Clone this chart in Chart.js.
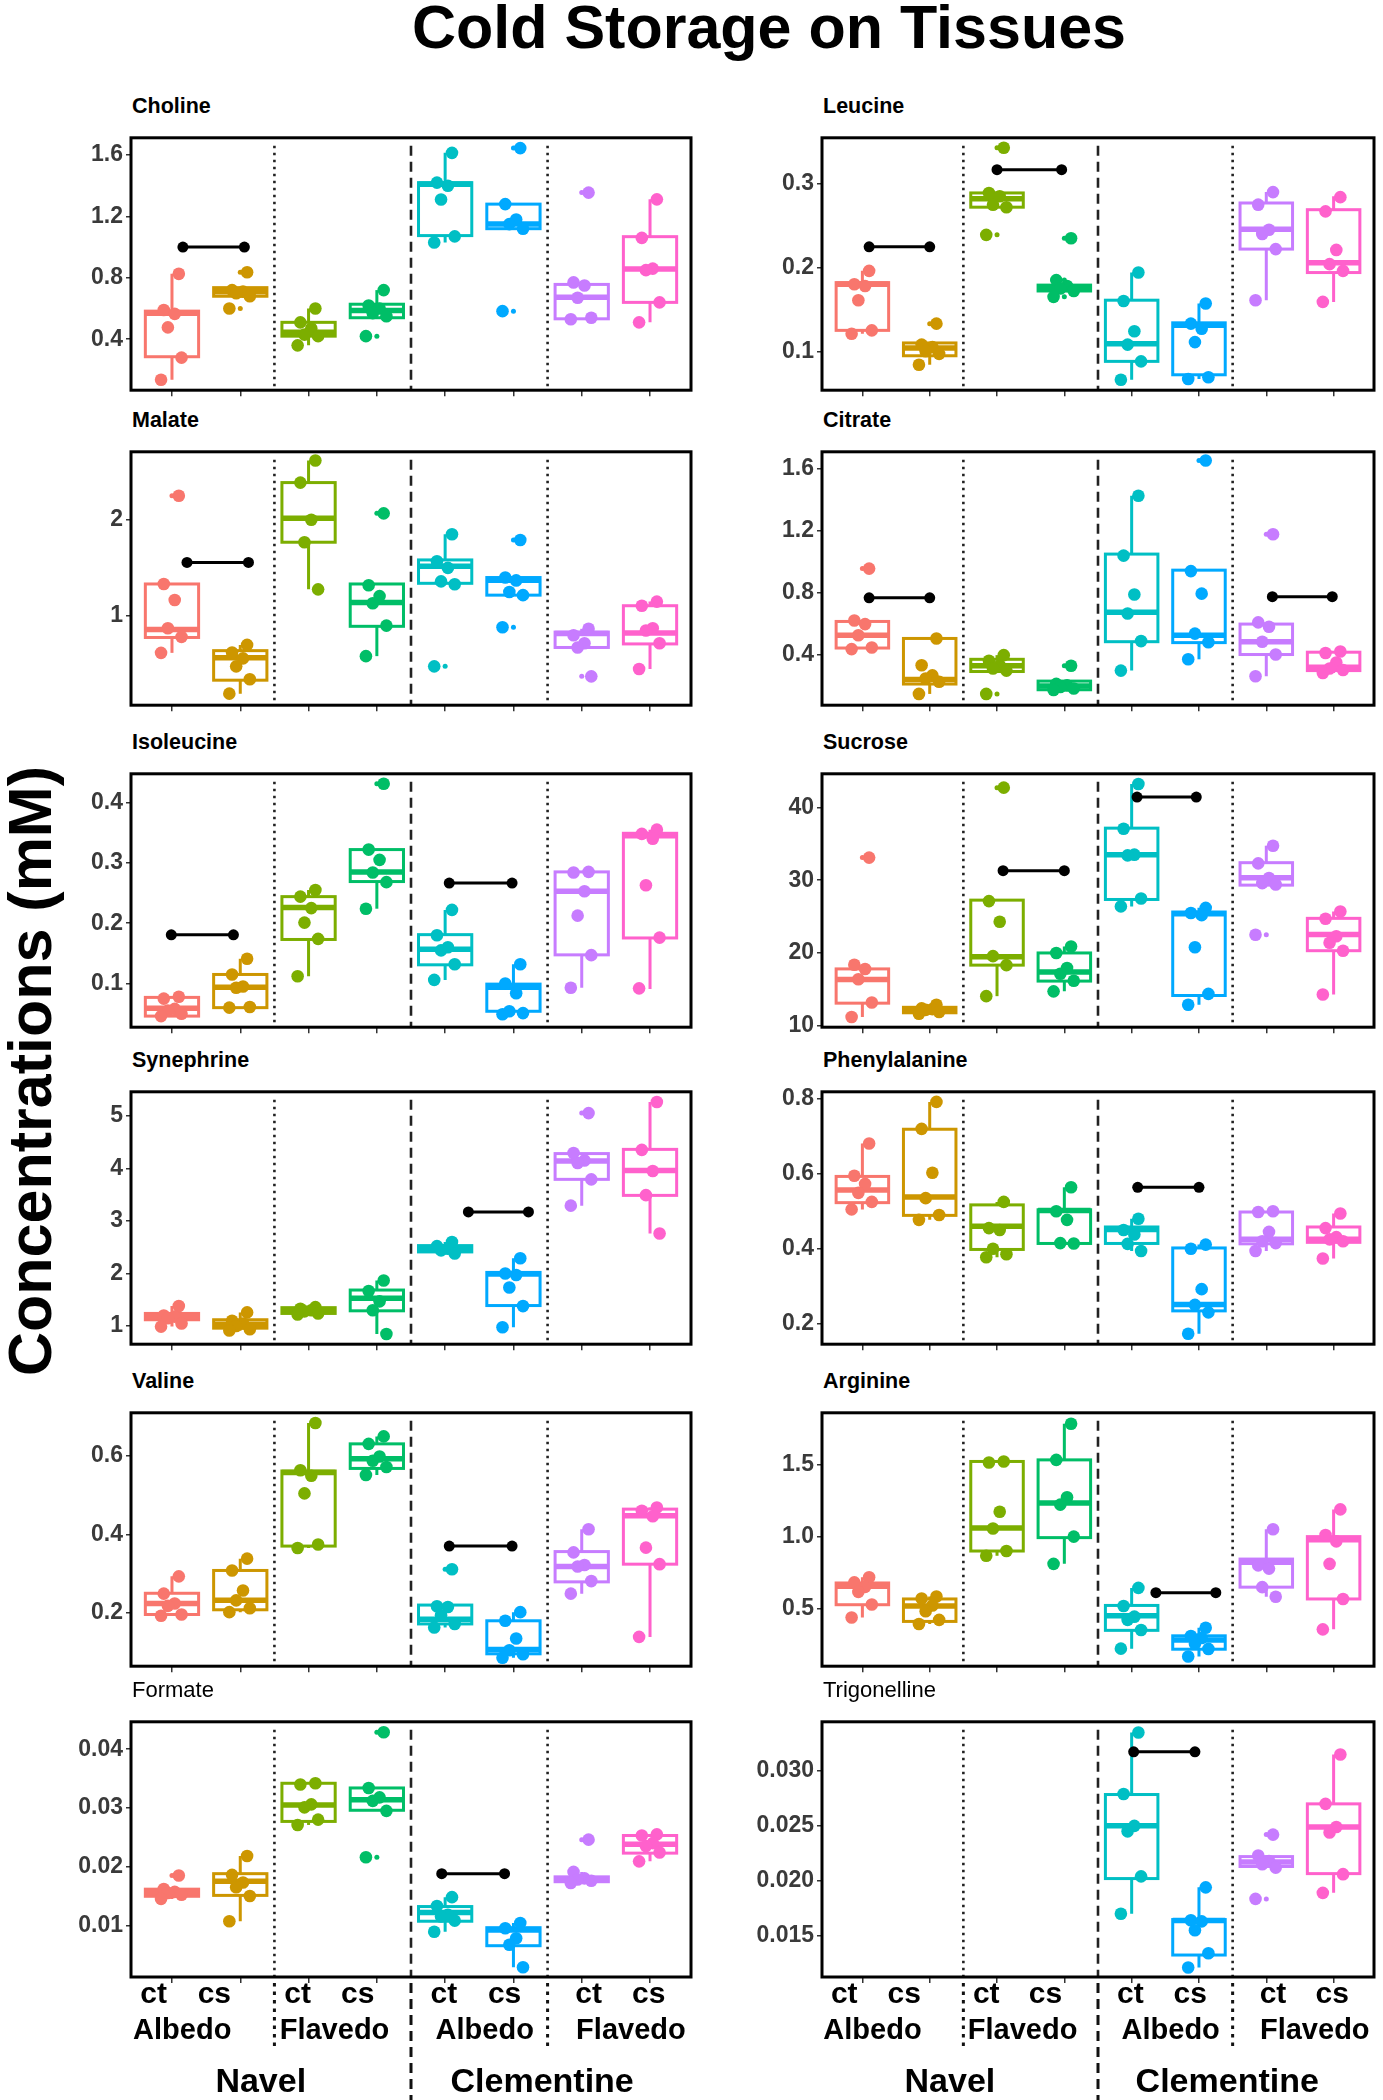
<!DOCTYPE html>
<html>
<head>
<meta charset="utf-8">
<script src="https://cdn.jsdelivr.net/npm/chart.js@4.4.1/dist/chart.umd.min.js"></script>
<style>
  body { margin: 0; background: #fff; }
  #page { position: relative; width: 1383px; height: 2100px; overflow: hidden; font-family: "Liberation Sans", Arial, sans-serif; }
  #page canvas { position: absolute; }
  .ptitle { position: absolute; font-size: 21.5px; font-weight: bold; line-height: 22px; color: #000; white-space: nowrap; }
  .ptitle.light { font-weight: normal; font-size: 22px; }
  #title { position: absolute; left: 269px; width: 1000px; top: -3px; text-align: center; font-size: 61px; font-weight: bold; line-height: 61px; }
  #ylab { position: absolute; left: 30px; top: 1071px; transform: translate(-50%, -50%) rotate(-90deg); font-size: 61px; font-weight: bold; line-height: 61px; white-space: nowrap; }
</style>
</head>
<body>
<div id="page">
  <div id="title">Cold Storage on Tissues</div>
  <div id="ylab">Concentrations (mM)</div>
</div>
<script>
// groups: Navel Albedo ct/cs, Navel Flavedo ct/cs, Clementine Albedo ct/cs, Clementine Flavedo ct/cs
const groupColors = ["#F8766D", "#CD9600", "#7CAE00", "#00BE67", "#00BFC4", "#00A9FF", "#C77CFF", "#FF61CC"];
const categories = ["ct", "cs", "ct", "cs", "ct", "cs", "ct", "cs"];
const tissues = ["Albedo", "Flavedo", "Albedo", "Flavedo"];
const cultivars = ["Navel", "Clementine"];
const jitter = [0.1, -0.12, 0.04, -0.06, 0.14, -0.16];

// box = [lower whisker, q1, median, q3, upper whisker]; sig = [x from, x to, y]
const cholineBox = [[0.136, 0.286, 0.57, 0.583, 0.826], [0.68, 0.68, 0.71, 0.736, 0.736], [0.36, 0.42, 0.446, 0.51, 0.60], [0.54, 0.54, 0.587, 0.628, 0.72],
  [1.03, 1.075, 1.41, 1.42, 1.614], [1.12, 1.12, 1.15, 1.28, 1.28], [0.53, 0.533, 0.674, 0.757, 0.77], [0.51, 0.64, 0.857, 1.068, 1.311]];
const cholinePts = [[0.826, 0.59, 0.565, 0.477, 0.28, 0.136], [0.836, 0.72, 0.71, 0.70, 0.68, 0.60], [0.60, 0.51, 0.47, 0.43, 0.42, 0.36], [0.72, 0.62, 0.60, 0.57, 0.55, 0.42],
  [1.614, 1.42, 1.40, 1.31, 1.07, 1.03], [1.645, 1.28, 1.18, 1.15, 1.12, 0.583], [1.355, 0.77, 0.75, 0.67, 0.54, 0.53], [1.311, 1.06, 0.86, 0.85, 0.64, 0.51]];
const cholineSig = [[1.16, 2.06, 1.0]];
const cholineTicks = [0.4, 0.8, 1.2, 1.6];
const cholineRange = [0.068, 1.712];

const leucineBox = [[0.121, 0.125, 0.18, 0.182, 0.196], [0.084, 0.0947, 0.104, 0.110, 0.110], [0.272, 0.272, 0.282, 0.289, 0.289], [0.172, 0.172, 0.176, 0.179, 0.179],
  [0.066, 0.088, 0.109, 0.161, 0.194], [0.067, 0.072, 0.131, 0.134, 0.157], [0.161, 0.222, 0.2456, 0.277, 0.29], [0.159, 0.194, 0.2057, 0.269, 0.285]];
const leucinePts = [[0.196, 0.18, 0.178, 0.161, 0.125, 0.121], [0.133, 0.108, 0.105, 0.10, 0.097, 0.084], [0.343, 0.289, 0.285, 0.275, 0.272, 0.239], [0.235, 0.185, 0.178, 0.175, 0.172, 0.165],
  [0.194, 0.16, 0.124, 0.108, 0.088, 0.066], [0.157, 0.133, 0.127, 0.111, 0.069, 0.067], [0.29, 0.275, 0.245, 0.24, 0.222, 0.161], [0.284, 0.267, 0.221, 0.204, 0.196, 0.159]];
const leucineSig = [[1.1, 2.0, 0.2247], [3.0, 3.96, 0.3167]];
const leucineTicks = [0.1, 0.2, 0.3];
const leucineRange = [0.0536, 0.3548];

const malateBox = [[0.617, 0.777, 0.86, 1.333, 1.333], [0.193, 0.333, 0.567, 0.64, 0.70], [1.277, 1.767, 2.017, 2.387, 2.617], [0.583, 0.893, 1.14, 1.333, 1.333],
  [1.33, 1.34, 1.517, 1.583, 1.85], [1.217, 1.217, 1.373, 1.40, 1.40], [0.673, 0.673, 0.817, 0.833, 0.867], [0.45, 0.71, 0.823, 1.107, 1.15]];
const malatePts = [[2.25, 1.333, 1.167, 0.873, 0.783, 0.617], [0.70, 0.62, 0.56, 0.477, 0.343, 0.193], [2.617, 2.387, 2.0, 1.767, 1.277], [2.067, 1.32, 1.207, 1.133, 0.9, 0.583],
  [1.85, 1.57, 1.50, 1.36, 1.33, 0.477], [1.79, 1.40, 1.37, 1.25, 1.217, 0.883], [0.867, 0.80, 0.717, 0.673, 0.373], [1.15, 1.107, 0.873, 0.85, 0.717, 0.45]];
const malateSig = [[1.22, 2.12, 1.557]];
const malateTicks = [1, 2];
const malateRange = [0.073, 2.707];

const citrateBox = [[0.435, 0.442, 0.525, 0.614, 0.62], [0.145, 0.209, 0.238, 0.504, 0.504], [0.29, 0.29, 0.327, 0.369, 0.396], [0.17, 0.172, 0.197, 0.228, 0.228],
  [0.296, 0.483, 0.674, 1.05, 1.428], [0.369, 0.477, 0.525, 0.946, 0.946], [0.259, 0.40, 0.483, 0.597, 0.608], [0.28, 0.296, 0.317, 0.415, 0.42]];
const citratePts = [[0.956, 0.62, 0.597, 0.525, 0.445, 0.435], [0.504, 0.331, 0.265, 0.245, 0.224, 0.145], [0.396, 0.36, 0.33, 0.31, 0.296, 0.145], [0.327, 0.21, 0.20, 0.19, 0.18, 0.17],
  [1.428, 1.04, 0.788, 0.665, 0.487, 0.296], [1.656, 0.94, 0.794, 0.535, 0.479, 0.369], [1.178, 0.608, 0.58, 0.483, 0.40, 0.259], [0.42, 0.41, 0.348, 0.31, 0.30, 0.28]];
const citrateSig = [[1.1, 2.0, 0.767], [7.09, 7.98, 0.774]];
const citrateTicks = [0.4, 0.8, 1.2, 1.6];
const citrateRange = [0.072, 1.712];

const isoleucineBox = [[0.046, 0.046, 0.059, 0.077, 0.078], [0.06, 0.06, 0.0937, 0.115, 0.141], [0.112, 0.173, 0.226, 0.244, 0.255], [0.224, 0.269, 0.285, 0.322, 0.322],
  [0.106, 0.131, 0.157, 0.181, 0.222], [0.049, 0.054, 0.094, 0.099, 0.132], [0.093, 0.1475, 0.253, 0.285, 0.285], [0.091, 0.1755, 0.345, 0.349, 0.355]];
const isoleucinePts = [[0.078, 0.075, 0.058, 0.055, 0.05, 0.046], [0.141, 0.115, 0.095, 0.093, 0.061, 0.06], [0.255, 0.244, 0.225, 0.201, 0.174, 0.112], [0.431, 0.322, 0.305, 0.284, 0.268, 0.224],
  [0.222, 0.18, 0.16, 0.155, 0.132, 0.106], [0.132, 0.10, 0.084, 0.054, 0.051, 0.049], [0.285, 0.284, 0.253, 0.2125, 0.147, 0.093], [0.355, 0.348, 0.34, 0.263, 0.176, 0.092]];
const isoleucineSig = [[0.99, 1.9, 0.1808], [5.06, 5.98, 0.2664]];
const isoleucineTicks = [0.1, 0.2, 0.3, 0.4];
const isoleucineRange = [0.0276, 0.4476];

const sucroseBox = [[11.23, 13.12, 16.37, 17.82, 18.39], [11.67, 11.8, 12.24, 12.55, 12.9], [14.08, 18.34, 19.5, 27.26, 27.26], [14.74, 16.15, 17.38, 20.01, 20.9],
  [26.4, 27.35, 33.5, 37.14, 43.2], [12.9, 14.17, 25.4, 25.63, 26.2], [29.32, 29.32, 30.33, 32.4, 34.73], [14.3, 20.32, 22.56, 24.76, 25.7]];
const sucrosePts = [[33.1, 18.39, 17.8, 16.4, 13.2, 11.23], [12.9, 12.4, 12.3, 12.2, 11.9, 11.67], [42.7, 27.13, 24.3, 19.57, 18.34, 14.08], [20.9, 20.0, 17.95, 17.16, 16.2, 14.74],
  [43.2, 37.05, 33.5, 33.4, 27.48, 26.4], [26.2, 25.5, 25.2, 20.8, 14.39, 12.9], [34.73, 32.3, 30.3, 29.6, 29.4, 22.5], [25.7, 24.7, 22.3, 21.42, 20.32, 14.3]];
const sucroseSig = [[3.09, 4.0, 31.3], [5.08, 5.96, 41.4]];
const sucroseTicks = [10, 20, 30, 40];
const sucroseRange = [9.82, 44.6];

const synephrineBox = [[0.99, 1.12, 1.18, 1.24, 1.38], [0.915, 0.96, 1.036, 1.12, 1.26], [1.22, 1.24, 1.29, 1.35, 1.36], [0.85, 1.29, 1.53, 1.685, 1.867],
  [2.38, 2.41, 2.47, 2.53, 2.6], [0.976, 1.39, 1.99, 2.02, 2.29], [3.29, 3.79, 4.14, 4.28, 4.29], [2.76, 3.485, 3.96, 4.36, 5.26]];
const synephrinePts = [[1.38, 1.2, 1.18, 1.15, 1.05, 0.99], [1.26, 1.1, 1.05, 1.0, 0.94, 0.915], [1.36, 1.33, 1.3, 1.28, 1.24, 1.22], [1.867, 1.667, 1.47, 1.3, 0.85],
  [2.6, 2.52, 2.47, 2.44, 2.38], [2.29, 2.0, 1.97, 1.733, 1.38, 0.976], [5.05, 4.29, 4.15, 4.1, 3.79, 3.29], [5.26, 4.35, 3.95, 3.49, 2.76]];
const synephrineSig = [[5.34, 6.22, 3.17]];
const synephrineTicks = [1, 2, 3, 4, 5];
const synephrineRange = [0.655, 5.455];

const phenylalanineBox = [[0.505, 0.523, 0.557, 0.593, 0.681], [0.477, 0.489, 0.538, 0.719, 0.792], [0.377, 0.398, 0.46, 0.517, 0.525], [0.414, 0.414, 0.502, 0.504, 0.564],
  [0.394, 0.414, 0.451, 0.458, 0.48], [0.173, 0.234, 0.251, 0.402, 0.411], [0.394, 0.413, 0.425, 0.498, 0.5], [0.374, 0.417, 0.425, 0.458, 0.494]];
const phenylalaninePts = [[0.681, 0.595, 0.573, 0.549, 0.525, 0.505], [0.792, 0.72, 0.603, 0.535, 0.49, 0.477], [0.525, 0.455, 0.45, 0.40, 0.385, 0.377], [0.564, 0.50, 0.477, 0.415, 0.414],
  [0.48, 0.45, 0.438, 0.413, 0.394], [0.411, 0.40, 0.292, 0.25, 0.23, 0.173], [0.5, 0.498, 0.445, 0.42, 0.415, 0.394], [0.494, 0.455, 0.431, 0.425, 0.42, 0.374]];
const phenylalanineSig = [[5.09, 6.0, 0.564]];
const phenylalanineTicks = [0.2, 0.4, 0.6, 0.8];
const phenylalanineRange = [0.145, 0.819];

const valineBox = [[0.193, 0.196, 0.224, 0.25, 0.293], [0.202, 0.208, 0.232, 0.308, 0.338], [0.365, 0.37, 0.557, 0.561, 0.683], [0.551, 0.5675, 0.592, 0.63, 0.649],
  [0.163, 0.172, 0.184, 0.22, 0.22], [0.086, 0.096, 0.107, 0.18, 0.202], [0.249, 0.279, 0.318, 0.356, 0.413], [0.139, 0.324, 0.447, 0.464, 0.468]];
const valinePts = [[0.293, 0.249, 0.224, 0.218, 0.196, 0.193], [0.338, 0.308, 0.257, 0.232, 0.212, 0.202], [0.683, 0.563, 0.549, 0.504, 0.374, 0.365], [0.649, 0.63, 0.598, 0.587, 0.571, 0.551],
  [0.311, 0.217, 0.215, 0.194, 0.172, 0.163], [0.202, 0.18, 0.135, 0.105, 0.095, 0.086], [0.413, 0.354, 0.322, 0.318, 0.281, 0.249], [0.468, 0.46, 0.446, 0.366, 0.324, 0.139]];
const valineSig = [[5.06, 5.98, 0.37]];
const valineTicks = [0.2, 0.4, 0.6];
const valineRange = [0.0645, 0.709];

const arginineBox = [[0.438, 0.527, 0.656, 0.678, 0.718], [0.393, 0.411, 0.518, 0.567, 0.584], [0.867, 0.9, 1.06, 1.522, 1.522], [0.811, 0.993, 1.233, 1.533, 1.784],
  [0.222, 0.349, 0.451, 0.522, 0.644], [0.167, 0.218, 0.282, 0.311, 0.367], [0.582, 0.649, 0.822, 0.844, 1.051], [0.356, 0.567, 0.978, 1.0, 1.189]];
const argininePts = [[0.718, 0.682, 0.651, 0.616, 0.529, 0.438], [0.584, 0.57, 0.522, 0.482, 0.422, 0.393], [1.522, 1.515, 1.173, 1.056, 0.9, 0.867], [1.784, 1.533, 1.273, 1.222, 1.0, 0.811],
  [0.644, 0.518, 0.444, 0.422, 0.351, 0.222], [0.367, 0.31, 0.296, 0.256, 0.22, 0.167], [1.051, 0.80, 0.778, 0.649, 0.582], [1.189, 1.011, 0.967, 0.811, 0.567, 0.356]];
const arginineSig = [[5.36, 6.25, 0.611]];
const arginineTicks = [0.5, 1.0, 1.5];
const arginineRange = [0.1, 1.86];

const formateBox = [[0.0145, 0.01495, 0.0156, 0.01616, 0.0162], [0.0107, 0.0151, 0.0175, 0.0188, 0.0218], [0.0271, 0.0277, 0.0305, 0.0342, 0.0342], [0.0295, 0.0296, 0.0314, 0.0334, 0.0334],
  [0.0089, 0.0107, 0.0122, 0.0132, 0.0148], [0.00285, 0.00653, 0.0092, 0.0096, 0.0104], [0.0172, 0.01743, 0.0178, 0.01826, 0.0191], [0.0209, 0.0223, 0.0238, 0.0253, 0.0255]];
const formatePts = [[0.0185, 0.0162, 0.0157, 0.0155, 0.0152, 0.0145], [0.0218, 0.0186, 0.0173, 0.0165, 0.015, 0.0107], [0.0342, 0.034, 0.0306, 0.0301, 0.028, 0.0271], [0.0429, 0.0334, 0.0318, 0.0312, 0.0295, 0.0216],
  [0.0148, 0.0133, 0.0118, 0.0115, 0.0108, 0.0089], [0.0104, 0.0095, 0.0078, 0.0067, 0.00285], [0.0246, 0.0191, 0.018, 0.0178, 0.0176, 0.0172], [0.0255, 0.0253, 0.024, 0.0235, 0.0224, 0.0209]];
const formateSig = [[4.95, 5.87, 0.0188]];
const formateTicks = [0.01, 0.02, 0.03, 0.04];
const formateRange = [0.0012, 0.04467];

const trigonellineBox = [null, null, null, null,
  [0.017, 0.0202, 0.025, 0.02785, 0.0335], [0.0121, 0.01324, 0.01638, 0.01647, 0.0194], [0.0212, 0.0213, 0.0217, 0.0222, 0.0223], [0.0189, 0.02065, 0.0249, 0.027, 0.0315]];
const trigonellinePts = [[], [], [], [],
  [0.0335, 0.0279, 0.025, 0.0245, 0.0204, 0.017], [0.0194, 0.0164, 0.0163, 0.0155, 0.0134, 0.0121], [0.0242, 0.0223, 0.0218, 0.0215, 0.0212, 0.01835], [0.0315, 0.027, 0.0249, 0.0244, 0.0206, 0.0189]];
const trigonellineSig = [[5.03, 5.94, 0.03174]];
const trigonellineTicks = [0.015, 0.020, 0.025, 0.030];
const trigonellineRange = [0.01124, 0.03447];

const panels = [
  { name: "Choline", box: cholineBox, pts: cholinePts, sig: cholineSig, ticks: cholineTicks, range: cholineRange, dec: 1 },
  { name: "Leucine", box: leucineBox, pts: leucinePts, sig: leucineSig, ticks: leucineTicks, range: leucineRange, dec: 1 },
  { name: "Malate", box: malateBox, pts: malatePts, sig: malateSig, ticks: malateTicks, range: malateRange, dec: 0 },
  { name: "Citrate", box: citrateBox, pts: citratePts, sig: citrateSig, ticks: citrateTicks, range: citrateRange, dec: 1 },
  { name: "Isoleucine", box: isoleucineBox, pts: isoleucinePts, sig: isoleucineSig, ticks: isoleucineTicks, range: isoleucineRange, dec: 1 },
  { name: "Sucrose", box: sucroseBox, pts: sucrosePts, sig: sucroseSig, ticks: sucroseTicks, range: sucroseRange, dec: 0 },
  { name: "Synephrine", box: synephrineBox, pts: synephrinePts, sig: synephrineSig, ticks: synephrineTicks, range: synephrineRange, dec: 0 },
  { name: "Phenylalanine", box: phenylalanineBox, pts: phenylalaninePts, sig: phenylalanineSig, ticks: phenylalanineTicks, range: phenylalanineRange, dec: 1 },
  { name: "Valine", box: valineBox, pts: valinePts, sig: valineSig, ticks: valineTicks, range: valineRange, dec: 1 },
  { name: "Arginine", box: arginineBox, pts: argininePts, sig: arginineSig, ticks: arginineTicks, range: arginineRange, dec: 1 },
  { name: "Formate", box: formateBox, pts: formatePts, sig: formateSig, ticks: formateTicks, range: formateRange, dec: 2 },
  { name: "Trigonelline", box: trigonellineBox, pts: trigonellinePts, sig: trigonellineSig, ticks: trigonellineTicks, range: trigonellineRange, dec: 3 }
];

// layout (page pixels)
const frameTop = [129, 443, 765, 1083, 1404, 1713];
const frameBottom = [393, 708, 1030, 1347, 1669, 1977];
const frameLeft = [131, 822];
const frameRight = [691, 1374];
const canvasLeft = [40, 740];
const canvasRight = [700, 1383];

// label positions on the category axis (bottom row only)
const ctLabelAt = [0.73, 2.84, 4.98, 7.1];
const csLabelAt = [1.62, 3.72, 5.87, 7.98];
const tissueLabelAt = [1.15, 3.38, 5.58, 7.72];
const cultivarLabelAt = [2.3, 6.42];

const FONT = '"Liberation Sans", Arial, sans-serif';

function decoPlugin(p, isBottom) {
  return {
    id: "deco",
    beforeDatasetsDraw(chart) {
      const { ctx, chartArea: a, scales: { x, y } } = chart;
      ctx.save();
      // group separators
      const seps = [[2.5, [2.5, 4.5]], [4.5, [10, 6]], [6.5, [2.5, 4.5]]];
      seps.forEach(([v, dash]) => {
        const px = x.getPixelForValue(v);
        ctx.strokeStyle = "#222";
        ctx.lineWidth = 2.6;
        ctx.setLineDash(dash);
        ctx.beginPath();
        ctx.moveTo(px, a.top + 8);
        ctx.lineTo(px, a.bottom);
        ctx.stroke();
      });
      ctx.setLineDash([]);
      // boxplots
      p.box.forEach((b, g) => {
        if (!b) return;
        const xc = g + 1;
        const xl = x.getPixelForValue(xc - 0.39), xr = x.getPixelForValue(xc + 0.39), xm = x.getPixelForValue(xc);
        const [lo, q1, md, q3, hi] = b.map(v => y.getPixelForValue(v));
        ctx.strokeStyle = groupColors[g];
        ctx.lineWidth = 3;
        ctx.beginPath();
        ctx.moveTo(xm, q3); ctx.lineTo(xm, hi);
        ctx.moveTo(xm, q1); ctx.lineTo(xm, lo);
        ctx.stroke();
        ctx.fillStyle = "#fff";
        ctx.fillRect(xl, q3, xr - xl, q1 - q3);
        ctx.strokeRect(xl, q3, xr - xl, q1 - q3);
        ctx.lineWidth = 5.5;
        ctx.beginPath();
        ctx.moveTo(xl, md); ctx.lineTo(xr, md);
        ctx.stroke();
      });
      ctx.restore();
    },
    afterDraw(chart) {
      const { ctx, chartArea: a, scales: { x } } = chart;
      ctx.save();
      ctx.strokeStyle = "#000";
      ctx.lineWidth = 3;
      ctx.strokeRect(a.left, a.top, a.right - a.left, a.bottom - a.top);
      if (isBottom) {
        // separators continue below the panel
        [[2.5, [3.5, 5], a.bottom + 70], [4.5, [10, 6], chart.height], [6.5, [3.5, 5], a.bottom + 70]].forEach(([v, dash, end]) => {
          const px = x.getPixelForValue(v);
          ctx.strokeStyle = "#111";
          ctx.lineWidth = 3;
          ctx.setLineDash(dash);
          ctx.beginPath();
          ctx.moveTo(px, a.bottom + 6);
          ctx.lineTo(px, end);
          ctx.stroke();
        });
        ctx.setLineDash([]);
        ctx.fillStyle = "#000";
        ctx.textAlign = "center";
        ctx.textBaseline = "alphabetic";
        ctx.font = "bold 30px " + FONT;
        ctLabelAt.forEach(v => ctx.fillText(categories[0], x.getPixelForValue(v), a.bottom + 26));
        csLabelAt.forEach(v => ctx.fillText(categories[1], x.getPixelForValue(v), a.bottom + 26));
        ctx.font = "bold 29px " + FONT;
        tissueLabelAt.forEach((v, i) => ctx.fillText(tissues[i], x.getPixelForValue(v), a.bottom + 62));
        ctx.font = "bold 34px " + FONT;
        cultivarLabelAt.forEach((v, i) => ctx.fillText(cultivars[i], x.getPixelForValue(v), a.bottom + 115));
      }
      ctx.restore();
    }
  };
}

const page = document.getElementById("page");

panels.forEach((p, i) => {
  const col = i % 2, row = Math.floor(i / 2);
  const isBottom = row === 5;
  const top = frameTop[row] - 8;
  const bottom = isBottom ? 2100 : frameBottom[row] + 14;
  const left = canvasLeft[col];
  const width = canvasRight[col] - left;
  const height = bottom - top;
  const yw = frameLeft[col] - left;
  const xh = bottom - frameBottom[row];
  const padR = canvasRight[col] - frameRight[col];

  const title = document.createElement("div");
  title.className = "ptitle" + (isBottom ? " light" : "");
  title.textContent = p.name;
  title.style.left = (frameLeft[col] + 1) + "px";
  title.style.top = (frameTop[row] - 34) + "px";
  page.appendChild(title);

  const canvas = document.createElement("canvas");
  canvas.width = width; canvas.height = height;
  canvas.style.left = left + "px"; canvas.style.top = top + "px";
  canvas.style.width = width + "px"; canvas.style.height = height + "px";
  page.appendChild(canvas);

  const datasets = [];
  p.sig.forEach(s => datasets.push({
    data: [{ x: s[0], y: s[2] }, { x: s[1], y: s[2] }],
    showLine: true, borderColor: "#000", borderWidth: 3,
    pointRadius: 5.5, pointBackgroundColor: "#000", pointBorderWidth: 0, clip: false
  }));
  const outl = [];
  p.pts.forEach((arr, g) => {
    const b = p.box[g];
    if (!b) return;
    arr.forEach(v => { if (v < b[0] - 1e-9 || v > b[4] + 1e-9) outl.push({ x: g + 1, y: v, c: groupColors[g] }); });
  });
  datasets.push({
    data: outl.map(o => ({ x: o.x, y: o.y })),
    pointBackgroundColor: outl.map(o => o.c), pointRadius: 2.5, pointBorderWidth: 0, clip: false
  });
  p.pts.forEach((arr, g) => {
    datasets.push({
      data: arr.map((v, k) => ({ x: g + 1 + jitter[k % jitter.length], y: v })),
      pointBackgroundColor: groupColors[g], pointRadius: 6.3, pointBorderWidth: 0, clip: false
    });
  });

  new Chart(canvas, {
    type: "scatter",
    data: { datasets },
    options: {
      responsive: false,
      animation: false,
      events: [],
      devicePixelRatio: 1,
      layout: { padding: { top: 8, right: padR, left: 0, bottom: 0 } },
      plugins: { legend: { display: false }, tooltip: { enabled: false } },
      scales: {
        x: {
          type: "linear", min: 0.4, max: 8.6,
          afterBuildTicks: s => { s.ticks = categories.map((c, k) => ({ value: k + 1 })); },
          afterFit: s => { s.height = xh; },
          ticks: { display: false },
          grid: { drawOnChartArea: false, drawTicks: true, tickLength: 6, color: "#333", lineWidth: 1.5 },
          border: { display: false }
        },
        y: {
          type: "linear", min: p.range[0], max: p.range[1],
          afterBuildTicks: s => { s.ticks = p.ticks.map(v => ({ value: v })); },
          afterFit: s => { s.width = yw; },
          ticks: {
            callback: v => Number(v).toFixed(p.dec),
            font: { family: FONT, size: 23, weight: "bold" },
            color: "#3A3A3A", padding: 3
          },
          grid: { drawOnChartArea: false, drawTicks: true, tickLength: 5, color: "#333", lineWidth: 1.5 },
          border: { display: false }
        }
      }
    },
    plugins: [decoPlugin(p, isBottom)]
  });
});
</script>
</body>
</html>
